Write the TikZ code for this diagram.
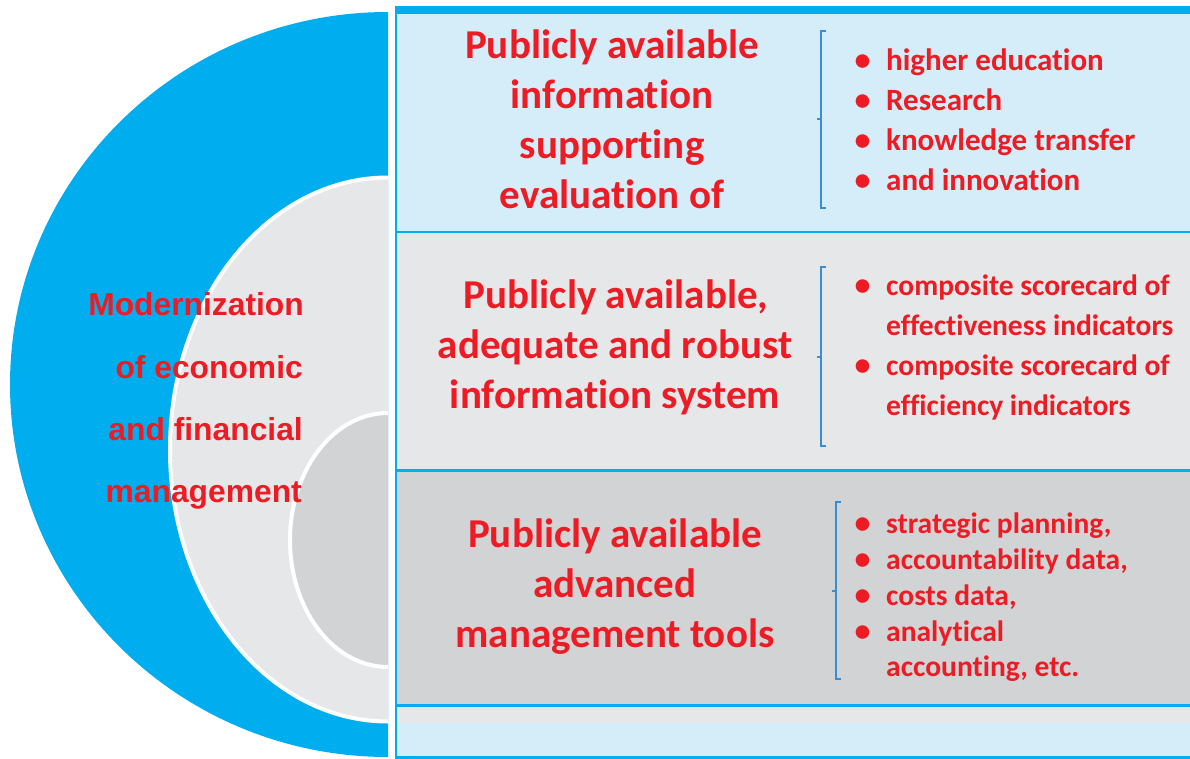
\documentclass[tikz,border=0pt]{standalone}
\usepackage{fontspec}
\setmainfont{Carlito}[Ligatures={NoCommon}]
\newfontfamily\lsans{Liberation Sans}
\definecolor{cblue}{HTML}{00AEEF}
\definecolor{lblue}{HTML}{D5ECF9}
\definecolor{lgray}{HTML}{E6E7E8}
\definecolor{dgray}{HTML}{D1D3D4}
\definecolor{tred}{HTML}{ED1C24}
\definecolor{brk}{HTML}{3A8DCE}
\tikzset{
  ttl/.style={font=\fontsize{41}{50}\selectfont\bfseries, text=tred, inner sep=0pt, anchor=base},
  bula/.style={font=\fontsize{31}{40}\selectfont\bfseries, text=tred, inner sep=0pt, anchor=base west},
  bulb/.style={font=\fontsize{29.5}{40}\selectfont\bfseries, text=tred, inner sep=0pt, anchor=base west},
  dot/.style={font=\fontsize{32}{40}\selectfont\bfseries, text=tred, inner sep=0pt, anchor=base},
  lft/.style={font=\fontsize{31.8}{60}\selectfont\lsans\bfseries, text=tred, inner sep=0pt, anchor=base east},
  brack/.style={draw=brk, line width=1.5pt}
}
\begin{document}
\begin{tikzpicture}[x=1pt,y=-1pt]
\useasboundingbox (0,0) rectangle (1190,759);
% half discs
\begin{scope}
\clip (0,0) rectangle (388,759);
\fill[cblue] (388,384.5) ellipse [x radius=378pt, y radius=372.5pt];
\filldraw[fill=lgray, draw=white, line width=4pt] (388,449.5) ellipse [x radius=218pt, y radius=272pt];
\filldraw[fill=dgray, draw=white, line width=4pt] (388,540) ellipse [x radius=98pt, y radius=127pt];
\end{scope}
% right panels
\fill[lblue] (396,14) rectangle (1190,232);
\fill[lgray] (396,232) rectangle (1190,470);
\fill[dgray] (396,470) rectangle (1190,705);
\fill[lgray] (396,705) rectangle (1190,723);
\fill[lblue] (396,723) rectangle (1190,757);
\fill[cblue] (394.5,6) rectangle (1190,14);
\fill[cblue] (394.5,6) rectangle (397,759);
\fill[cblue] (394.5,756) rectangle (1190,759);
\draw[cblue, line width=1.2pt] (396,232) -- (1190,232);
\fill[cblue] (396,469) rectangle (1190,472);
\fill[cblue] (396,704) rectangle (1190,706.5);
% left text
\node[lft] (m1) at (304,315) {Modernization};
\node[lft] (m2) at (303,378) {of economic};
\node[lft] (m3) at (303,440) {and financial};
\node[lft] (m4) at (302,502) {management};
% titles
\node[ttl] (a1) at (612,59) {Publicly available};
\node[ttl] (a2) at (612,109) {information};
\node[ttl] (a3) at (612,159) {supporting};
\node[ttl] (a4) at (612,209) {evaluation of};
\node[ttl] (b1) at (616,308) {Publicly available,};
\node[ttl] (b2) at (615,358) {adequate and robust};
\node[ttl] (b3) at (615,408) {information system};
\node[ttl] (c1) at (615,547) {Publicly available};
\node[ttl] (c2) at (615,597) {advanced};
\node[ttl] (c3) at (615,647) {management tools};
% brackets
\draw[brack] (826,31) -- (821,31) -- (821,208) -- (826,208);
\draw[brack] (817,119) -- (821,119);
\draw[brack] (826,267) -- (821,267) -- (821,446) -- (826,446);
\draw[brack] (817,357) -- (821,357);
\draw[brack] (841,502) -- (836,502) -- (836,679) -- (841,679);
\draw[brack] (832,591) -- (836,591);
% bullets box 1
\node[dot] (d11) at (862.7,71) {•};
\node[bula] (p11) at (886,71) {higher education};
\node[dot] (d12) at (862.7,111) {•};
\node[bula] (p12) at (886,111) {Research};
\node[dot] (d13) at (862.7,151) {•};
\node[bula] (p13) at (886,151) {knowledge transfer};
\node[dot] (d14) at (862.7,191) {•};
\node[bula] (p14) at (886,191) {and innovation};
% bullets box 2
\node[dot] (d21) at (862.7,295) {•};
\node[bulb] (p21) at (886,295) {composite scorecard of};
\node[bulb] (p22) at (886,335) {effectiveness indicators};
\node[dot] (d23) at (862.7,375) {•};
\node[bulb] (p23) at (886,375) {composite scorecard of};
\node[bulb] (p24) at (886,415) {efficiency indicators};
% bullets box 3
\node[dot] (d31) at (862.7,533.3) {•};
\node[bulb] (p31) at (886,533.3) {strategic planning,};
\node[dot] (d32) at (862.7,569.3) {•};
\node[bulb] (p32) at (886,569.3) {accountability data,};
\node[dot] (d33) at (862.7,605) {•};
\node[bulb] (p33) at (886,605) {costs data,};
\node[dot] (d34) at (862.7,641.3) {•};
\node[bulb] (p34) at (886,641.3) {analytical};
\node[bulb] (p35) at (886,676.7) {accounting, etc.};
\end{tikzpicture}
\end{document}
